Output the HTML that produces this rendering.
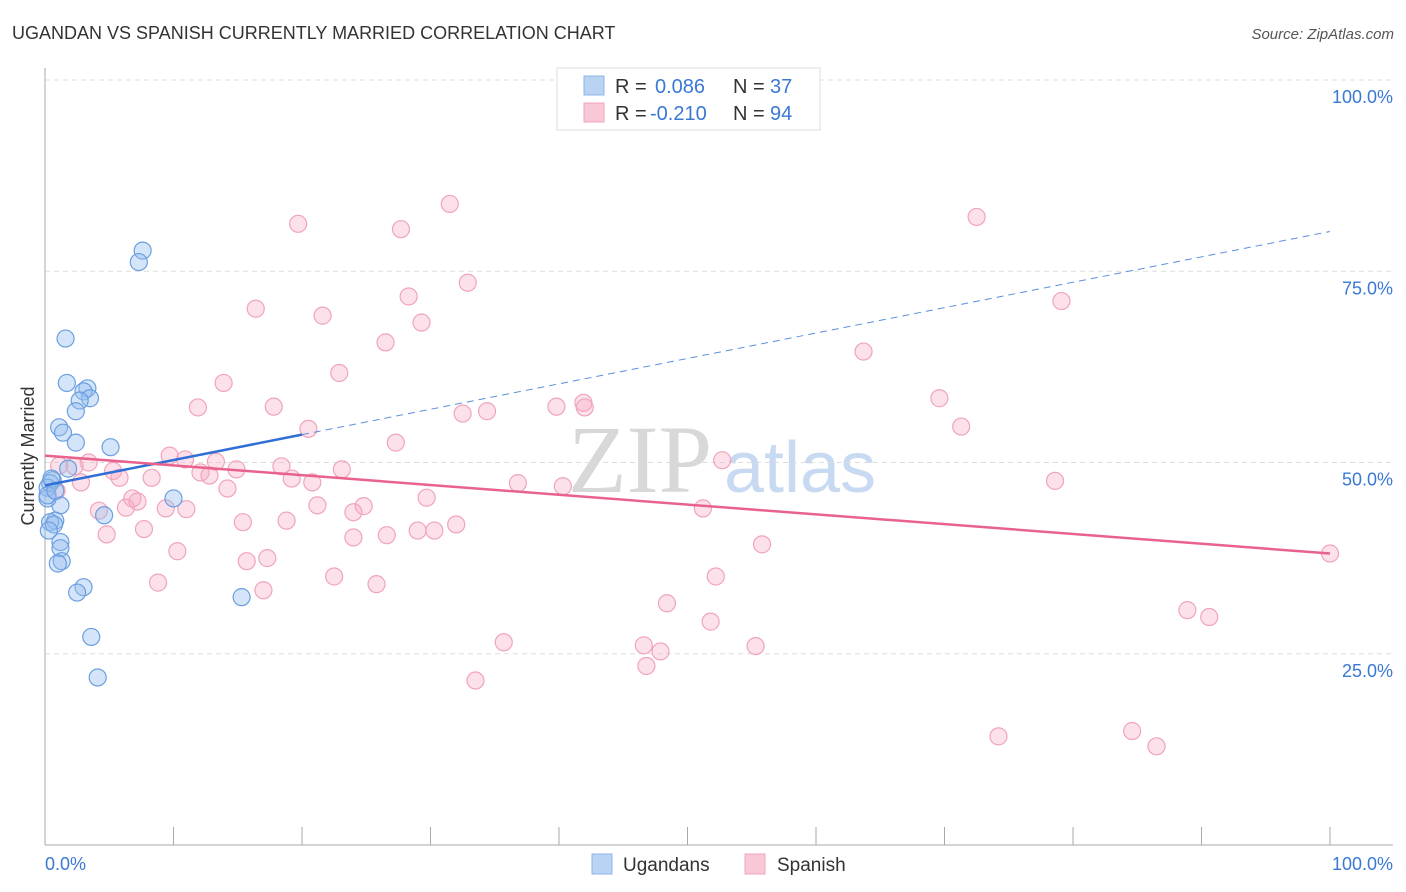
<!DOCTYPE html>
<html><head><meta charset="utf-8">
<style>
body{margin:0;background:#fff;font-family:"Liberation Sans",sans-serif;}
svg{display:block}
</style></head>
<body>
<svg id="chart" width="1406" height="892" font-family="Liberation Sans, sans-serif">
<text x="12" y="39" font-size="18" fill="#333">UGANDAN VS SPANISH CURRENTLY MARRIED CORRELATION CHART</text>
<text x="1394" y="39" font-size="15" fill="#555" font-style="italic" text-anchor="end">Source: ZipAtlas.com</text>
<text x="640" y="492" font-size="96" fill="#d8d8d8" font-family="Liberation Serif, serif" text-anchor="middle">ZIP</text>
<text x="800" y="492" font-size="72" fill="#c8daf2" text-anchor="middle">atlas</text>
<g id="grid"></g>
<g id="axes"></g>
<g id="marks"></g>
<text transform="translate(34,456) rotate(-90)" font-size="18" fill="#333" text-anchor="middle">Currently Married</text>
<g>
<rect x="557" y="68" width="263" height="62" fill="#fff" stroke="#ddd"/>
<rect x="584" y="76" width="20" height="19" fill="#b9d3f3" stroke="#8fb5e8"/>
<rect x="584" y="103" width="20" height="19" fill="#f9c8d6" stroke="#f0a4bb"/>
<text x="615" y="93" font-size="20" fill="#333">R = </text><text x="655" y="93" font-size="20" fill="#3a78d4">0.086</text>
<text x="733" y="93" font-size="20" fill="#333">N = </text><text x="770" y="93" font-size="20" fill="#3a78d4">37</text>
<text x="615" y="120" font-size="20" fill="#333">R = </text><text x="650" y="120" font-size="20" fill="#3a78d4">-0.210</text>
<text x="733" y="120" font-size="20" fill="#333">N = </text><text x="770" y="120" font-size="20" fill="#3a78d4">94</text>
</g>
<g>
<rect x="592" y="854" width="20" height="20" fill="#b9d3f3" stroke="#8fb5e8"/>
<text x="623" y="871" font-size="19" fill="#333">Ugandans</text>
<rect x="745" y="854" width="20" height="20" fill="#f9c8d6" stroke="#f0a4bb"/>
<text x="777" y="871" font-size="19" fill="#333">Spanish</text>
</g>
</svg>
<script>
const yTicks=[25,50,75,100];
const yTickLabels=["25.0%","50.0%","75.0%","100.0%"];
const xTickLabels=["0.0%","100.0%"];
const blueX=[7.6,7.3,1.6,1.7,3.3,3.0,3.5,2.7,2.4,1.1,1.4,2.4,5.1,0.6,0.4,0.2,10.0,1.2,0.2,4.6,0.8,0.4,0.7,0.3,1.2,1.2,1.3,1.0,3.0,2.5,15.3,3.6,4.1,1.8,0.5,0.2,0.8];
const blueY=[77.7,76.2,66.2,60.4,59.7,59.3,58.4,58.1,56.7,54.6,53.9,52.6,52.0,47.7,47.3,46.7,45.3,44.4,45.3,43.1,42.4,42.2,41.9,41.1,39.6,38.8,37.1,36.8,33.7,33.0,32.4,27.2,21.9,49.2,47.9,45.7,46.3];
const pinkX=[31.5,72.5,19.7,27.7,32.9,79.1,28.3,16.4,21.6,29.3,26.5,63.7,22.9,13.9,69.6,11.9,17.8,41.9,39.8,42.0,32.5,34.4,71.3,20.5,27.3,9.7,10.9,13.3,52.7,3.4,2.3,1.1,5.3,18.4,23.1,14.9,12.1,12.8,5.8,8.3,19.2,20.8,2.8,36.8,40.3,78.6,14.2,0.9,29.7,6.8,7.2,21.2,24.8,24.0,9.4,11.0,4.2,6.3,51.2,15.4,18.8,32.0,29.0,30.3,7.7,4.8,24.0,26.6,55.8,10.3,17.3,15.7,22.5,52.2,8.8,25.8,17.0,100,48.4,88.9,90.6,51.8,35.7,46.6,55.3,47.9,46.8,33.5,74.2,84.6,86.5];
const pinkY=[83.8,82.1,81.2,80.5,73.5,71.1,71.7,70.1,69.2,68.3,65.7,64.5,61.7,60.4,58.4,57.2,57.3,57.8,57.3,57.2,56.4,56.7,54.7,54.4,52.6,50.9,50.4,50.1,50.3,50.0,49.5,49.6,48.9,49.5,49.1,49.1,48.7,48.3,48.0,48.0,47.9,47.4,47.4,47.3,46.9,47.6,46.6,46.3,45.4,45.3,44.9,44.4,44.3,43.5,44.0,43.9,43.7,44.1,44.0,42.2,42.4,41.9,41.1,41.1,41.3,40.6,40.2,40.5,39.3,38.4,37.5,37.1,35.1,35.1,34.3,34.1,33.3,38.1,31.6,30.7,29.8,29.2,26.5,26.1,26.0,25.3,23.4,21.5,14.2,14.9,12.9];
const blueTrend=[47.0,80.2];
const pinkTrend=[50.9,38.1];

const NS="http://www.w3.org/2000/svg";
const X0=45,X1=1330,Y0=845,Y100=80;
const sx=v=>X0+(X1-X0)*v/100;
const sy=v=>Y0-(Y0-Y100)*v/100;
function mk(tag,attrs,parent){const e=document.createElementNS(NS,tag);for(const k in attrs)e.setAttribute(k,attrs[k]);parent.appendChild(e);return e;}
const grid=document.getElementById('grid'),axes=document.getElementById('axes'),marks=document.getElementById('marks');
yTicks.forEach((t,i)=>{
 const l=mk('line',{x1:45,x2:1393,y1:sy(t),y2:sy(t),stroke:'#ddd','stroke-dasharray':'5,4'},grid);
 
 
 const tx=mk('text',{x:1393,y:sy(t)+23,'font-size':18,fill:'#3a78d4','text-anchor':'end'},axes);
 tx.textContent=yTickLabels[i];
 
 
});
const la=mk('line',{x1:45,x2:45,y1:68,y2:845,stroke:'#aaa'},axes);


const ba=mk('line',{x1:45,x2:1393,y1:845,y2:845,stroke:'#aaa'},axes);


for(let i=0;i<=10;i++){
 const t=mk('line',{x1:sx(i*10),x2:sx(i*10),y1:827,y2:845,stroke:'#aaa'},axes);
 
 
}
[[0,'start',45],[100,'end',1393]].forEach((a,i)=>{
 const tx=mk('text',{x:a[2],y:870,'font-size':18,fill:'#3a78d4','text-anchor':a[1]},axes);
 tx.textContent=xTickLabels[i];
 
 
});
pinkX.forEach((x,i)=>{
 const c=mk('circle',{cx:sx(x),cy:sy(pinkY[i]),r:8.5,fill:'rgba(245,170,195,0.35)',stroke:'#f0a4bb','stroke-width':1.2},marks);
 
 
});
blueX.forEach((x,i)=>{
 const c=mk('circle',{cx:sx(x),cy:sy(blueY[i]),r:8.5,fill:'rgba(150,190,240,0.4)',stroke:'#6b9fe0','stroke-width':1.2},marks);
 
 
});
const bAt=x=>blueTrend[0]+(blueTrend[1]-blueTrend[0])*x/100;
const bs=mk('line',{x1:sx(0),y1:sy(bAt(0)),x2:sx(20),y2:sy(bAt(20)),stroke:'#2f6fd6','stroke-width':2.5},marks);


const bd=mk('line',{x1:sx(20),y1:sy(bAt(20)),x2:sx(100),y2:sy(bAt(100)),stroke:'#5a8fdc','stroke-width':1,'stroke-dasharray':'7,5'},marks);


const pl=mk('line',{x1:sx(0),y1:sy(pinkTrend[0]),x2:sx(100),y2:sy(pinkTrend[1]),stroke:'#e8628c','stroke-width':2.5},marks);


</script>
</body></html>
